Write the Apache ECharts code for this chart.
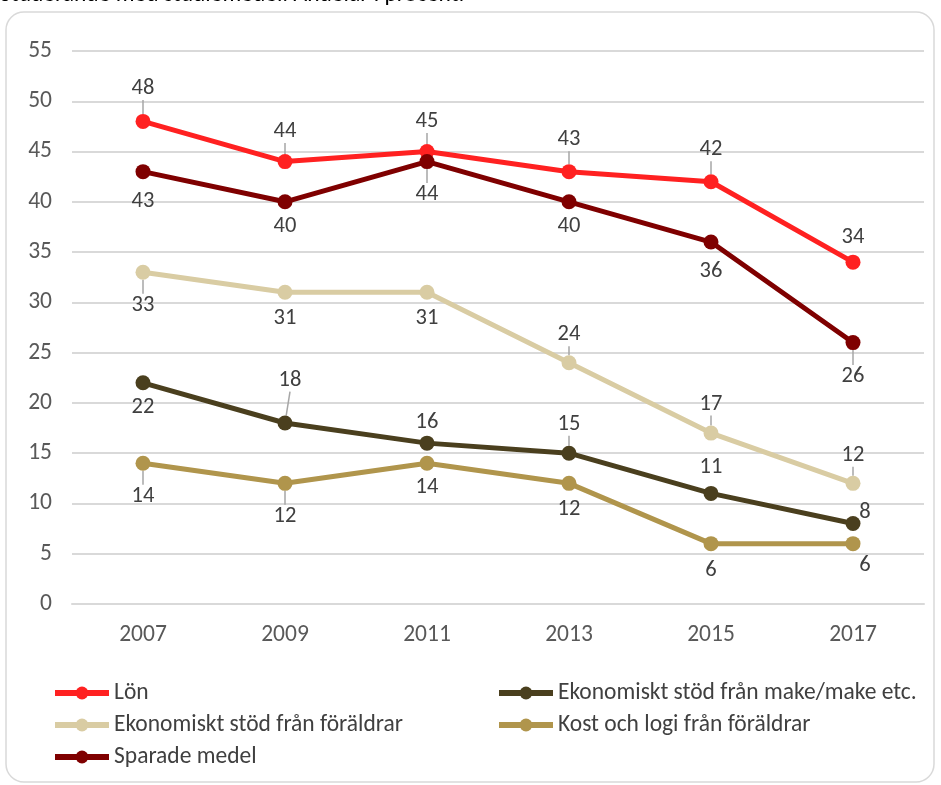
<!DOCTYPE html>
<html>
<head>
<meta charset="utf-8">
<script src="https://cdn.jsdelivr.net/npm/echarts@6/dist/echarts.min.js"></script>
<style>
html,body{margin:0;padding:0;background:#fff;}
#chart{width:941px;height:785px;}
</style>
</head>
<body>
<div id="chart"></div>
<script>
const years = ['2007','2009','2011','2013','2015','2017'];
const lon = [48,44,45,43,42,34];
const sparade = [43,40,44,40,36,26];
const foraldrar = [33,31,31,24,17,12];
const make = [22,18,16,15,11,8];
const kost = [14,12,14,12,6,6];
const yTicks = [0,5,10,15,20,25,30,35,40,45,50,55];

const FONT = "Carlito, Lato, 'Open Sans', sans-serif";

// label displacement from the marker, in px [dx, dy] (style only)
// mode: 1 = label with leader line, 0 = plain label
const lonLbl = [[0,-33],[0,-30],[0,-30],[0,-32],[0,-32],[0,-25]];
const lonMode = [1,1,1,1,1,0];
const sparadeLbl = [[0,30],[0,25],[0,33],[0,25],[0,29],[0,34]];
const sparadeMode = [0,0,1,0,0,1];
const foraldrarLbl = [[0,33],[0,26],[0,26],[0,-28],[0,-29],[0,-28]];
const foraldrarMode = [1,0,0,1,1,1];
const makeLbl = [[0,25],[5,-43],[0,-21],[0,-29],[0,-26],[12,-11]];
const makeMode = [0,1,0,1,0,0];
const kostLbl = [[0,33],[0,33],[0,24],[0,26],[0,27],[12,22]];
const kostMode = [1,1,0,0,0,0];

const labelBase = {show: true, position: 'inside', fontSize: 22.5, color: '#404040', fontFamily: FONT};

// main visible series: labels with leader lines
function series(name, vals, lbl, mode, color){
  return {
    name: name, type: 'line',
    data: vals.map((v,i)=> ({value: v, label: {show: mode[i] === 1}})),
    symbol: 'circle', symbolSize: 15,
    lineStyle: {width: 5, color: color},
    itemStyle: {color: color},
    label: labelBase,
    labelLine: {show: true, lineStyle: {color: '#a6a6a6', width: 1.5}, minTurnAngle: 0, smooth: false},
    labelLayout: function(p){
      const i = p.dataIndex;
      return mode[i] === 1 ? {dx: lbl[i][0], dy: lbl[i][1]} : {};
    },
    emphasis: {disabled: true},
    animation: false
  };
}

// transparent overlay carrying the plain labels (no leader lines)
function labelSeries(name, vals, lbl, mode){
  return {
    name: name + ' (etiketter)', type: 'line',
    data: vals.map((v,i)=> ({value: v, label: {show: mode[i] !== 1, offset: lbl[i]}})),
    symbol: 'circle', symbolSize: 15,
    lineStyle: {width: 0, opacity: 0},
    itemStyle: {color: 'rgba(0,0,0,0)'},
    label: labelBase,
    silent: true, z: 5,
    emphasis: {disabled: true},
    animation: false
  };
}

const legendCommon = {
  orient: 'vertical', top: 676, itemWidth: 54, itemHeight: 16, itemGap: 8,
  lineStyle: {width: 6},
  textStyle: {fontSize: 23.5, color: '#404040', fontFamily: FONT, lineHeight: 24}
};

const chart = echarts.init(document.getElementById('chart'));
chart.setOption({
  backgroundColor: '#fff',
  animation: false,
  graphic: [
    {type:'rect', shape:{x:6, y:12, width:928, height:770, r:18}, style:{fill:'none', stroke:'#d9d9d9', lineWidth:1.5}, z:-1},
    {type:'text', left:0, top:-17, style:{text:'Studerande med studiemedel. Andelar i procent.', font:"23.5px "+FONT, fill:'#000'}}
  ],
  grid: {left: 72, right: 17, top: 51, bottom: 181, containLabel: false},
  xAxis: {
    type: 'category', data: years, boundaryGap: true,
    axisLine: {show: true, lineStyle: {color: '#d9d9d9', width: 2}},
    axisTick: {show: false},
    axisLabel: {fontSize: 23.5, color: '#595959', margin: 19, fontFamily: FONT}
  },
  yAxis: {
    type: 'value', min: yTicks[0], max: yTicks[yTicks.length-1], interval: 5,
    axisLine: {show: false}, axisTick: {show: false},
    splitLine: {lineStyle: {color: '#d9d9d9', width: 2}},
    axisLabel: {fontSize: 23.5, color: '#595959', margin: 20, fontFamily: FONT}
  },
  legend: [
    Object.assign({data: ['Lön','Ekonomiskt stöd från föräldrar','Sparade medel'], left: 47}, legendCommon),
    Object.assign({data: ['Ekonomiskt stöd från make/make etc.','Kost och logi från föräldrar'], left: 491}, legendCommon)
  ],
  series: [
    series('Lön', lon, lonLbl, lonMode, '#ff2121'),
    series('Ekonomiskt stöd från make/make etc.', make, makeLbl, makeMode, '#4a3f1e'),
    series('Ekonomiskt stöd från föräldrar', foraldrar, foraldrarLbl, foraldrarMode, '#d9cca3'),
    series('Kost och logi från föräldrar', kost, kostLbl, kostMode, '#b0954c'),
    series('Sparade medel', sparade, sparadeLbl, sparadeMode, '#7f0000'),
    labelSeries('Lön', lon, lonLbl, lonMode),
    labelSeries('Ekonomiskt stöd från make/make etc.', make, makeLbl, makeMode),
    labelSeries('Ekonomiskt stöd från föräldrar', foraldrar, foraldrarLbl, foraldrarMode),
    labelSeries('Kost och logi från föräldrar', kost, kostLbl, kostMode),
    labelSeries('Sparade medel', sparade, sparadeLbl, sparadeMode)
  ]
});
</script>
</body>
</html>
